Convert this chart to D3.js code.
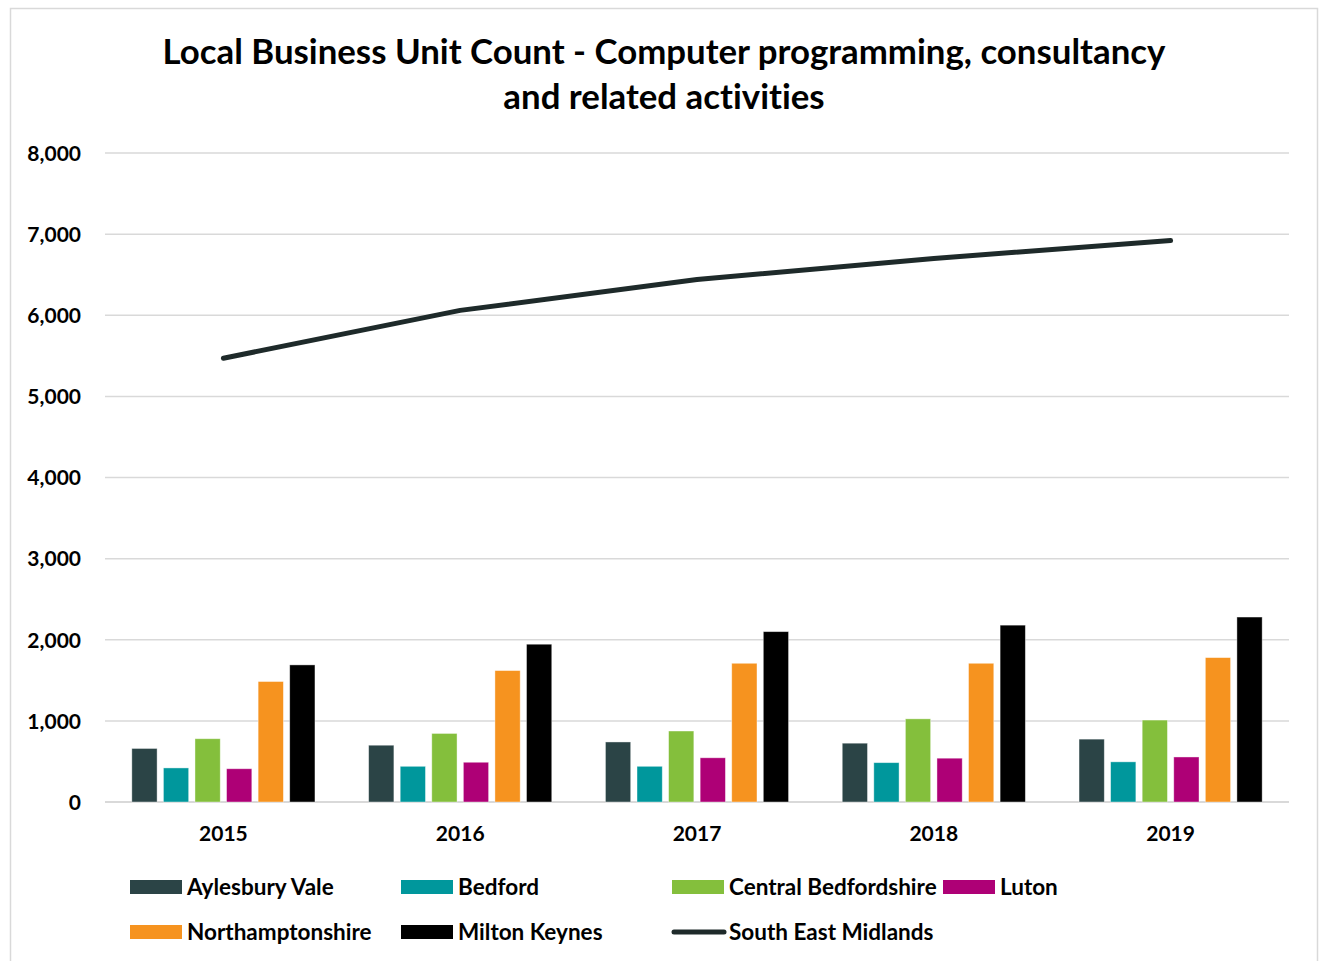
<!DOCTYPE html>
<html>
<head>
<meta charset="utf-8">
<script src="https://cdn.jsdelivr.net/npm/d3@7"></script>
<style>
  html, body { margin: 0; padding: 0; background: #fff; }
  svg { display: block; }
  text { font-family: Lato, "Open Sans", sans-serif; font-weight: 700; fill: #000; font-variant-ligatures: none; }
</style>
</head>
<body>
<svg id="chart" width="1325" height="961"></svg>
<script>
// Business unit counts by district, 2015–2019
const years = ["2015", "2016", "2017", "2018", "2019"];
const barSeries = ["Aylesbury Vale", "Bedford", "Central Bedfordshire", "Luton", "Northamptonshire", "Milton Keynes"];
const aylesburyVale = [660, 700, 740, 725, 775];
const bedford = [420, 440, 440, 485, 495];
const centralBedfordshire = [780, 845, 875, 1025, 1010];
const luton = [410, 490, 545, 540, 555];
const northamptonshire = [1485, 1620, 1710, 1710, 1780];
const miltonKeynes = [1690, 1945, 2100, 2180, 2280];
const southEastMidlands = [5470, 6060, 6440, 6700, 6920];
const yTicks = [0, 1000, 2000, 3000, 4000, 5000, 6000, 7000, 8000];
const colors = ["#2b4446", "#00979c", "#84bf3c", "#ae0076", "#f6931f", "#000000"];
const lineColor = "#1e2a2a";

const barValues = [aylesburyVale, bedford, centralBedfordshire, luton, northamptonshire, miltonKeynes];

const svg = d3.select("#chart");

// outer frame
svg.append("rect")
  .attr("x", 10.5).attr("y", 8.5)
  .attr("width", 1307).attr("height", 980)
  .attr("fill", "#fff").attr("stroke", "#d9d9d9").attr("stroke-width", 1.5);

// title
const title = svg.append("text")
  .attr("x", 664).attr("text-anchor", "middle")
  .style("font-size", "34.8px");
title.append("tspan").attr("x", 664).attr("y", 64)
  .text("Local Business Unit Count - Computer programming, consultancy");
title.append("tspan").attr("x", 664).attr("y", 109)
  .text("and related activities");

const plot = { left: 105, right: 1289, top: 153, bottom: 802 };

const y = d3.scaleLinear().domain([0, 8000]).range([plot.bottom, plot.top]);
const x0 = d3.scaleBand().domain(years).range([plot.left, plot.right]).padding(0);
const bw = x0.bandwidth();
const x1 = d3.scaleBand().domain(barSeries)
  .range([bw * 0.1, bw * 0.9]).paddingInner(0.2).paddingOuter(0.1);

// gridlines
svg.append("g")
  .selectAll("line")
  .data(yTicks)
  .join("line")
  .attr("x1", plot.left).attr("x2", plot.right)
  .attr("y1", d => y(d)).attr("y2", d => y(d))
  .attr("stroke", "#d9d9d9")
  .attr("stroke-width", d => d === 0 ? 2 : 1.5);

// y axis labels
const yAxis = d3.axisLeft(y).tickValues(yTicks).tickSize(0).tickPadding(0)
  .tickFormat(d3.format(","));
svg.append("g")
  .attr("transform", `translate(81,0)`)
  .call(yAxis)
  .call(g => g.select(".domain").remove())
  .call(g => g.selectAll("text")
    .attr("dy", "0.35em")
    .style("font-size", "21px")
    .style("font-family", "Lato, sans-serif")
    .style("font-weight", "700")
    .attr("fill", "#000"));

// x axis labels
const xAxis = d3.axisBottom(x0).tickSize(0).tickPadding(0);
svg.append("g")
  .attr("transform", `translate(0,${plot.bottom + 39})`)
  .call(xAxis)
  .call(g => g.select(".domain").remove())
  .call(g => g.selectAll("text")
    .attr("dy", 0)
    .style("font-size", "21px")
    .style("font-family", "Lato, sans-serif")
    .style("font-weight", "700")
    .attr("fill", "#000"));

// bars
const groups = svg.append("g")
  .selectAll("g")
  .data(years)
  .join("g")
  .attr("transform", d => `translate(${x0(d)},0)`);

groups.selectAll("rect")
  .data((yr, i) => barSeries.map((s, j) => ({ series: s, value: barValues[j][i], color: colors[j] })))
  .join("rect")
  .attr("x", d => x1(d.series))
  .attr("width", x1.bandwidth())
  .attr("y", d => y(d.value))
  .attr("height", d => y(0) - y(d.value))
  .attr("fill", d => d.color)
  .attr("stroke", "#ffffff")
  .attr("stroke-opacity", 0.5)
  .attr("stroke-width", 0.8);

// South East Midlands line
const line = d3.line()
  .x((d, i) => x0(years[i]) + bw / 2)
  .y(d => y(d));
svg.append("path")
  .datum(southEastMidlands)
  .attr("d", line)
  .attr("fill", "none")
  .attr("stroke", lineColor)
  .attr("stroke-width", 5)
  .attr("stroke-linecap", "round")
  .attr("stroke-linejoin", "round");

// legend
const legendItems = [
  { name: "Aylesbury Vale", color: colors[0], type: "bar" },
  { name: "Bedford", color: colors[1], type: "bar" },
  { name: "Central Bedfordshire", color: colors[2], type: "bar" },
  { name: "Luton", color: colors[3], type: "bar" },
  { name: "Northamptonshire", color: colors[4], type: "bar" },
  { name: "Milton Keynes", color: colors[5], type: "bar" },
  { name: "South East Midlands", color: lineColor, type: "line" }
];
const legend = svg.append("g");
const item = legend.selectAll("g")
  .data(legendItems)
  .join("g")
  .attr("transform", (d, i) => {
    const col = i < 4 ? i : i - 4;
    const row = i < 4 ? 0 : 1;
    return `translate(${130 + col * 271},${887 + row * 45})`;
  });
item.filter(d => d.type === "bar").append("rect")
  .attr("x", 0).attr("y", -7).attr("width", 52).attr("height", 14)
  .attr("fill", d => d.color);
item.filter(d => d.type === "line").append("line")
  .attr("x1", 2).attr("x2", 52).attr("y1", 0).attr("y2", 0)
  .attr("stroke", d => d.color).attr("stroke-width", 5)
  .attr("stroke-linecap", "round");
item.append("text")
  .attr("x", 57).attr("y", 0).attr("dy", "0.35em")
  .style("font-size", "22.5px")
  .text(d => d.name);
</script>
</body>
</html>
